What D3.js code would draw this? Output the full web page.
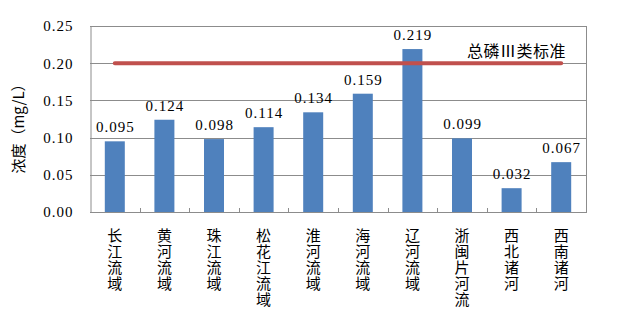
<!DOCTYPE html>
<html>
<head>
<meta charset="utf-8">
<script src="https://cdn.jsdelivr.net/npm/d3@7"></script>
<style>
body { margin: 0; background: #fff; }
svg { display: block; }
</style>
</head>
<body>
<svg id="chart"></svg>
<script>
var categories = ["长江流域", "黄河流域", "珠江流域", "松花江流域", "淮河流域", "海河流域", "辽河流域", "浙闽片河流", "西北诸河", "西南诸河"];
var values = [0.095, 0.124, 0.098, 0.114, 0.134, 0.159, 0.219, 0.099, 0.032, 0.067];
var standardValue = 0.20;
var standardLabel = "总磷Ⅲ类标准";
var yTicks = [0, 0.05, 0.10, 0.15, 0.20, 0.25];
var yTitle = "浓度（mg/L）";

function drawChart() {
    var width = 640, height = 318;
    var plotLeft = 90, plotRight = 586, plotTop = 26, plotBottom = 212;
    var numFont = "Liberation Serif, Times New Roman, serif";
    var cjkFont = "Noto Sans CJK SC, sans-serif";

    var svg = d3.select("#chart").attr("width", width).attr("height", height);

    var xb = d3.scaleBand().domain(categories).range([plotLeft, plotRight]);
    var y = d3.scaleLinear().domain([0, 0.25]).range([plotBottom, plotTop]);
    var barW = 20;

    // gridlines
    svg.append("g").selectAll("line").data(yTicks.slice(1)).enter().append("line")
        .attr("x1", plotLeft).attr("x2", plotRight)
        .attr("y1", function(d) { return Math.round(y(d)) + 0.5; })
        .attr("y2", function(d) { return Math.round(y(d)) + 0.5; })
        .attr("stroke", "#8c8c8c").attr("stroke-width", 1);

    // right border
    svg.append("line").attr("x1", plotRight + 0.5).attr("x2", plotRight + 0.5)
        .attr("y1", plotTop).attr("y2", plotBottom).attr("stroke", "#8c8c8c");

    // bars
    svg.append("g").selectAll("rect").data(values).enter().append("rect")
        .attr("x", function(d, i) { return xb(categories[i]) + (xb.bandwidth() - barW) / 2; })
        .attr("width", barW)
        .attr("y", function(d) { return y(d); })
        .attr("height", function(d) { return plotBottom - y(d); })
        .attr("fill", "#4f81bd");

    // value labels
    svg.append("g").selectAll("text").data(values).enter().append("text")
        .attr("x", function(d, i) { return xb(categories[i]) + xb.bandwidth() / 2 + 0.5; })
        .attr("y", function(d) { return y(d) - 9; })
        .attr("text-anchor", "middle")
        .attr("font-family", numFont).attr("font-size", 15).attr("letter-spacing", 1)
        .text(function(d) { return d3.format(".3f")(d); });

    // standard line
    svg.append("line")
        .attr("x1", xb(categories[0]) + xb.bandwidth() / 2)
        .attr("x2", xb(categories[categories.length - 1]) + xb.bandwidth() / 2)
        .attr("y1", y(standardValue)).attr("y2", y(standardValue))
        .attr("stroke", "#c0504d").attr("stroke-width", 4).attr("stroke-linecap", "round");

    svg.append("text").attr("x", 467).attr("y", 57)
        .attr("font-family", cjkFont).attr("font-size", 16).attr("letter-spacing", 0.5)
        .text(standardLabel);

    // y axis
    var yAxis = d3.axisLeft(y).tickValues(yTicks).tickFormat(d3.format(".2f")).tickSize(0).tickPadding(17);
    var gy = svg.append("g").attr("transform", "translate(" + (plotLeft + 0.5) + ",0)").call(yAxis);
    gy.select(".domain").attr("stroke", "#8c8c8c");
    gy.selectAll("text").attr("font-family", numFont).attr("font-size", 15)
        .attr("letter-spacing", 1).attr("fill", "#000");

    // x axis line + inner ticks at category boundaries
    svg.append("line").attr("x1", plotLeft).attr("x2", plotRight + 1)
        .attr("y1", plotBottom + 0.5).attr("y2", plotBottom + 0.5).attr("stroke", "#8c8c8c");
    svg.append("g").selectAll("line").data(categories.slice(1)).enter().append("line")
        .attr("x1", function(d) { return Math.round(xb(d)) + 0.5; })
        .attr("x2", function(d) { return Math.round(xb(d)) + 0.5; })
        .attr("y1", plotBottom - 4).attr("y2", plotBottom)
        .attr("stroke", "#8c8c8c");

    // category labels, one character per line
    svg.append("g").selectAll("text").data(categories).enter().append("text")
        .attr("text-anchor", "middle")
        .attr("font-family", cjkFont).attr("font-size", 15)
        .each(function(d) {
            var t = d3.select(this);
            var cx = xb(d) + xb.bandwidth() / 2;
            d.split("").forEach(function(ch, k) {
                t.append("tspan").attr("x", cx).attr("y", 241 + k * 16).text(ch);
            });
        });

    // y title
    svg.append("text")
        .attr("transform", "translate(24,125) rotate(-90)")
        .attr("text-anchor", "middle")
        .attr("font-family", cjkFont).attr("font-size", 15)
        .text(yTitle);
}

drawChart();
</script>
</body>
</html>
